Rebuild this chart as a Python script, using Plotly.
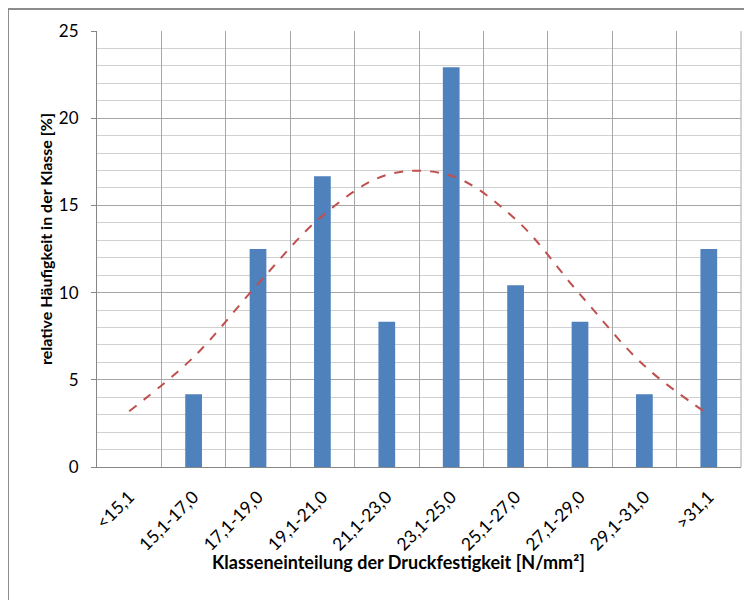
import plotly.graph_objects as go

categories = ["<15,1", "15,1-17,0", "17,1-19,0", "19,1-21,0", "21,1-23,0",
              "23,1-25,0", "25,1-27,0", "27,1-29,0", "29,1-31,0", ">31,1"]
bar_values = [0, 4.17, 12.5, 16.67, 8.33, 22.92, 10.42, 8.33, 4.17, 12.5]
curve_values = [3.2, 6.3, 10.5, 14.4, 16.75, 16.7, 14.2, 9.9, 5.8, 3.0]
y_ticks = [0, 5, 10, 15, 20, 25]

FONT = "Lato"
W, H = 752, 600
OFF = 8  # default page body margin
PL, PR, PT, PB = 97, 741, 31, 467  # plot area in screenshot pixels
pw, ph = PR - PL, PB - PT


def px(sx):
    return (sx - PL) / pw


def py(sy):
    return (PB - sy) / ph


fig = go.Figure()
fig.add_trace(go.Bar(x=categories, y=bar_values, marker=dict(color="#4f81bd", line=dict(width=0)),
                     showlegend=False))
fig.add_trace(go.Scatter(x=categories, y=curve_values, mode="lines",
                         line=dict(color="#c0504d", width=2, dash="dash", shape="spline", smoothing=1.0),
                         showlegend=False))

fig.update_layout(
    width=W, height=H,
    margin=dict(l=PL - OFF, r=W - (PR - OFF), t=PT - OFF, b=H - (PB - OFF), pad=0, autoexpand=False),
    paper_bgcolor="white", plot_bgcolor="white",
    bargap=0.74,
    font=dict(family=FONT, size=15, color="#000000"),
)
fig.update_xaxes(
    type="category", range=[-0.5, 9.5], automargin=False,
    tickson="boundaries", showgrid=True, gridcolor="#a6a6a6", gridwidth=1,
    showline=True, linecolor="#868686", linewidth=1, mirror=False,
    ticks="", tickangle=-45, tickfont=dict(family=FONT, size=17.5),
    ticklabelstandoff=12,
    zeroline=False,
)
fig.update_yaxes(
    range=[0, 25], tickvals=y_ticks, ticktext=[str(v) for v in y_ticks], automargin=False,
    showgrid=True, gridcolor="#a6a6a6", gridwidth=1,
    minor=dict(dtick=1, showgrid=True, gridcolor="#d0d0d0", gridwidth=1, ticks=""),
    showline=True, linecolor="#868686", linewidth=1,
    ticks="outside", ticklen=5, tickcolor="#868686",
    tickfont=dict(family=FONT, size=17), ticklabelstandoff=9, zeroline=False,
)
# right boundary line of plot area
fig.add_shape(type="line", xref="paper", yref="paper", x0=1, x1=1, y0=0, y1=1,
              line=dict(color="#a6a6a6", width=1))
# outer chart border (left and top)
fig.add_shape(type="line", xref="paper", yref="paper", x0=px(8), x1=px(800), y0=py(9), y1=py(9),
              line=dict(color="#8c8c8c", width=2))
fig.add_shape(type="line", xref="paper", yref="paper", x0=px(8), x1=px(8), y0=py(9), y1=py(700),
              line=dict(color="#8c8c8c", width=2))

fig.add_annotation(text="<b>Klasseneinteilung der Druckfestigkeit [N/mm²]</b>",
                   xref="paper", yref="paper", x=px(398), y=py(562),
                   showarrow=False, font=dict(family=FONT, size=18), xanchor="center", yanchor="middle")
fig.add_annotation(text="<b>relative Häufigkeit in der Klasse [%]</b>",
                   xref="paper", yref="paper", x=px(45), y=py(239),
                   showarrow=False, textangle=-90, font=dict(family=FONT, size=16),
                   xanchor="center", yanchor="middle")

fig.write_html("out.html")
